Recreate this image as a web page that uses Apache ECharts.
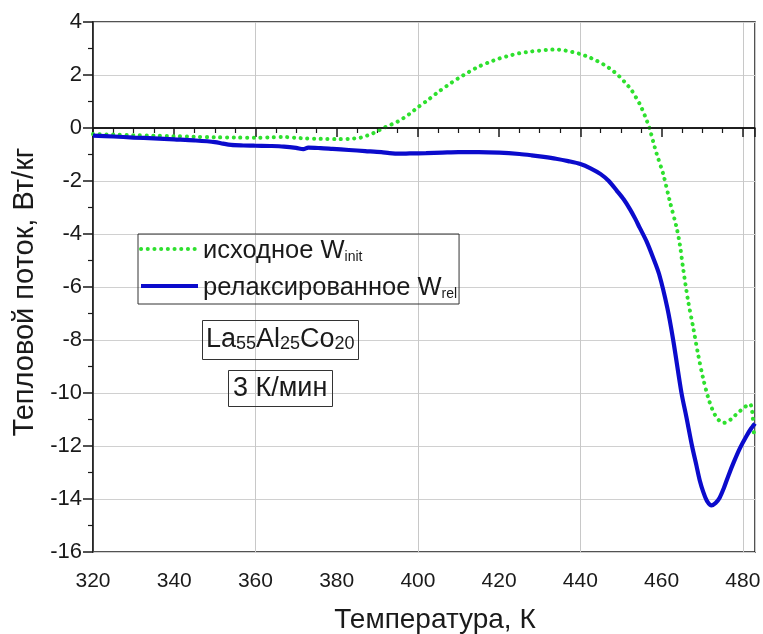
<!DOCTYPE html>
<html>
<head>
<meta charset="utf-8">
<script src="https://cdn.jsdelivr.net/npm/echarts@6/dist/echarts.min.js"></script>
<style>
  html, body { margin: 0; padding: 0; background: #fff; }
  #chart { width: 763px; height: 634px; }
</style>
</head>
<body>
<div id="chart"></div>
<script>
// DSC curves: heat flow vs temperature
const seriesNames = ['исходное W', 'релаксированное W'];
const seriesSubs = ['init', 'rel'];

const initT = [320, 325, 330, 335, 340, 345, 350, 355, 360, 364, 367, 370, 372, 376, 380, 383, 385.7, 387, 388.5, 390,
  391.5, 393, 395, 396.5, 398, 400, 402.5, 405, 407.5, 410, 412.5, 415, 417.5, 420, 422.5, 425, 427.5, 430, 432, 434,
  436, 438, 440, 442, 444, 446, 448, 449.5, 451, 452.5, 453.7, 454.8, 456, 457, 458, 458.8, 460.4, 462, 463.7, 464.5,
  465.3, 466.5, 467.8, 469, 470.2, 471.5, 472.5, 473.5, 474.5, 475.2, 476, 477, 478, 479, 480.1, 481.2, 481.8, 482.2,
  482.5, 482.8];
const initW = [-0.23, -0.25, -0.27, -0.29, -0.31, -0.33, -0.35, -0.36, -0.37, -0.35, -0.34, -0.37, -0.39, -0.41, -0.42,
  -0.41, -0.37, -0.31, -0.23, -0.12, 0, 0.1, 0.24, 0.38, 0.54, 0.78, 1.06, 1.36, 1.63, 1.88, 2.11, 2.32, 2.48, 2.62,
  2.73, 2.82, 2.88, 2.92, 2.95, 2.96, 2.93, 2.87, 2.79, 2.68, 2.54, 2.37, 2.16, 1.96, 1.72, 1.45, 1.15, 0.85, 0.42, 0.0,
  -0.55, -0.98, -1.74, -2.75, -3.76, -4.4, -5.3, -6.5, -7.54, -8.55, -9.43, -10.19, -10.62, -10.92, -11.08, -11.13,
  -11.1, -11.0, -10.86, -10.72, -10.58, -10.45, -10.42, -10.6, -11.0, -11.7];

const relT = [320, 325, 330, 335, 340, 345, 350, 352, 354, 357, 360, 364, 367, 370, 371.8, 373, 376, 379, 383, 387,
  391, 393, 395.6, 398, 402, 406, 410, 415, 420, 425, 428, 431, 434, 437, 440, 442.5, 445, 447, 449, 450.7, 452.2,
  453.5, 454.6, 456.3, 457.8, 459.4, 461.4, 462.9, 464.9, 466.1, 467.5, 468.6, 469.4, 470.3, 471.2, 472.3, 473.3,
  474.3, 475.3, 476.5, 477.8, 479.3, 480.8, 482, 483];
const relW = [-0.29, -0.32, -0.36, -0.39, -0.43, -0.47, -0.53, -0.59, -0.64, -0.66, -0.67, -0.68, -0.70, -0.75, -0.80,
  -0.74, -0.76, -0.79, -0.83, -0.87, -0.91, -0.95, -0.97, -0.96, -0.95, -0.93, -0.91, -0.91, -0.93, -0.98, -1.03,
  -1.09, -1.16, -1.25, -1.36, -1.52, -1.74, -2.0, -2.37, -2.7, -3.06, -3.42, -3.76, -4.28, -4.85, -5.52, -6.78, -8.04,
  -10.0, -10.9, -12.0, -12.75, -13.3, -13.75, -14.08, -14.24, -14.15, -13.95, -13.6, -13.1, -12.6, -12.08, -11.65,
  -11.35, -11.15];

const xMin = 320, xMax = 483, xStep = 20;
const yMin = -16, yMax = 4, yStep = 2;

const FONT = '"Liberation Sans", Arial, sans-serif';
const INK = '#1a1a1a';
const pair = (xs, ys) => xs.map((x, i) => [x, ys[i]]);

const chart = echarts.init(document.getElementById('chart'), null, { renderer: 'canvas' });

const option = {
  backgroundColor: '#fff',
  animation: false,
  grid: {
    left: 93, top: 22, right: 8, bottom: 82,
    outerBoundsMode: 'none', containLabel: false,
    show: true, borderColor: INK, borderWidth: 1.5, backgroundColor: 'transparent'
  },
  title: [
    {
      text: '{n|La}{s|55}{n|Al}{s|25}{n|Co}{s|20}',
      left: 202, top: 317,
      padding: [6, 4, 7, 4],
      borderColor: '#333', borderWidth: 1,
      textStyle: {
        fontWeight: 'normal',
        rich: {
          n: { fontFamily: FONT, fontSize: 27, fontWeight: 'normal', color: INK, lineHeight: 30, verticalAlign: 'bottom' },
          s: { fontFamily: FONT, fontSize: 18, fontWeight: 'normal', color: INK, lineHeight: 12, verticalAlign: 'bottom' }
        }
      }
    },
    {
      text: '3 К/мин',
      left: 228, top: 370,
      padding: [4, 5, 3, 5],
      borderColor: '#333', borderWidth: 1,
      textStyle: { fontFamily: FONT, fontSize: 27, fontWeight: 'normal', color: INK, lineHeight: 30 }
    }
  ],
  legend: {
    orient: 'vertical',
    left: 138, top: 234,
    padding: [4, 2, 3, 1],
    itemGap: 11,
    itemWidth: 57, itemHeight: 14,
    borderColor: '#333', borderWidth: 1,
    itemStyle: { color: 'transparent', borderWidth: 0, opacity: 0 },
    lineStyle: { width: 4 },
    data: seriesNames,
    formatter: name => '{m|' + name + '}{s|' + seriesSubs[seriesNames.indexOf(name)] + '}',
    textStyle: {
      rich: {
        m: { fontFamily: FONT, fontSize: 25.5, color: INK, lineHeight: 30, verticalAlign: 'bottom' },
        s: { fontFamily: FONT, fontSize: 14, color: INK, lineHeight: 11, verticalAlign: 'bottom' }
      }
    }
  },
  xAxis: [
    {
      type: 'value', min: xMin, max: xMax, interval: xStep,
      name: 'Температура, К', nameLocation: 'middle', nameGap: 54,
      nameTextStyle: { fontFamily: FONT, fontSize: 28, color: INK, padding: [0, 0, 0, 22] },
      axisLine: { show: true, lineStyle: { color: INK, width: 1.5 } },
      axisTick: { show: true, inside: false, length: 9, lineStyle: { color: INK, width: 1.5 } },
      minorTick: { show: true, splitNumber: 4, length: 5, lineStyle: { color: INK, width: 1.2 } },
      axisLabel: { fontFamily: FONT, fontSize: 21, color: INK, margin: 19, showMaxLabel: false },
      splitLine: { show: false }
    },
    {
      // vertical grid lines every 40 K
      type: 'value', min: xMin, max: xMax, interval: 40, position: 'bottom',
      axisLine: { show: false }, axisTick: { show: false }, axisLabel: { show: false },
      splitLine: { show: true, lineStyle: { color: '#c8c8c8', width: 1 } }
    }
  ],
  yAxis: {
    type: 'value', min: yMin, max: yMax, interval: yStep,
    axisLine: { show: true, lineStyle: { color: INK, width: 1.5 } },
    axisTick: { show: true, inside: false, length: 10, lineStyle: { color: INK, width: 1.5 } },
    minorTick: { show: true, splitNumber: 2, length: 5, lineStyle: { color: INK, width: 1.2 } },
    axisLabel: { fontFamily: FONT, fontSize: 22, color: INK, margin: 11 },
    splitLine: { show: true, lineStyle: { color: '#d0d0d0', width: 1 } }
  },
  graphic: [
    {
      type: 'text', x: 25, y: 292, rotation: Math.PI / 2,
      style: {
        text: 'Тепловой поток, Вт/кг', font: '29px ' + FONT, fill: INK,
        align: 'center', verticalAlign: 'middle'
      }
    }
  ],
  series: [
    {
      name: seriesNames[0], type: 'line', xAxisIndex: 0,
      data: pair(initT, initW), showSymbol: false, symbol: 'none', smooth: 0.3, z: 3,
      lineStyle: { color: '#2ee02e', width: 4, type: [0.1, 6.6], cap: 'round' },
      itemStyle: { color: '#2ee02e' },
      markLine: {
        silent: true, symbol: 'none', label: { show: false },
        lineStyle: { color: '#111', width: 1.5, type: 'solid' },
        data: [{ yAxis: 0 }]
      }
    },
    {
      name: seriesNames[1], type: 'line', xAxisIndex: 0,
      data: pair(relT, relW), showSymbol: false, symbol: 'none', smooth: 0.3, z: 4,
      lineStyle: { color: '#0b0bcc', width: 4.2 },
      itemStyle: { color: '#0b0bcc' }
    }
  ]
};

chart.setOption(option);
</script>
</body>
</html>
